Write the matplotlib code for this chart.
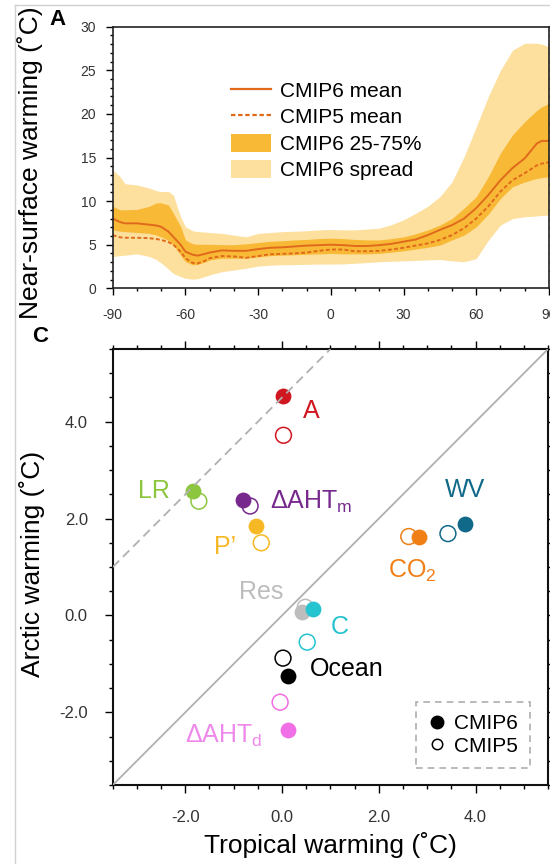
import matplotlib
matplotlib.use('Agg')
import matplotlib.pyplot as plt
from matplotlib.lines import Line2D
from matplotlib.patches import Patch
from matplotlib.ticker import MultipleLocator, FormatStrFormatter
import numpy as np

plt.rcParams['font.family'] = ['Liberation Sans', 'DejaVu Sans']
plt.rcParams['mathtext.fontset'] = 'custom'
plt.rcParams['mathtext.rm'] = 'Liberation Sans'
plt.rcParams['mathtext.it'] = 'Liberation Sans'
plt.rcParams['axes.unicode_minus'] = False

# panel A: zonal mean near-surface warming
lat = [-90, -87, -85, -80, -75, -72, -70, -67, -65, -62, -60, -57, -55, -52, -50, -45, -40, -35, -30, -25,
       -20, -15, -10, -5, 0, 5, 10, 15, 20, 25, 30, 35, 40, 45, 50, 55, 60, 65, 70, 75, 80, 85, 87, 90]
cmip6_mean = [8.0, 7.6, 7.45, 7.45, 7.3, 7.2, 7.05, 6.5, 5.9, 5.0, 4.2, 3.85, 3.75, 3.95, 4.1, 4.35, 4.3, 4.3, 4.5, 4.65,
              4.7, 4.8, 4.9, 4.95, 5.0, 4.95, 4.85, 4.85, 4.95, 5.1, 5.35, 5.6, 6.1, 6.7, 7.25, 8.0, 9.2, 10.7, 12.4, 13.8,
              14.9, 16.6, 16.9, 16.9]
cmip5_mean = [6.1, 5.85, 5.8, 5.8, 5.75, 5.65, 5.55, 5.3, 5.0, 4.2, 3.45, 2.9, 2.85, 3.15, 3.45, 3.7, 3.65, 3.5, 3.7, 3.9,
              3.95, 4.0, 4.1, 4.3, 4.45, 4.45, 4.25, 4.25, 4.3, 4.45, 4.65, 4.9, 5.15, 5.55, 6.1, 6.9, 8.0, 9.4, 11.1, 12.4,
              13.2, 14.1, 14.3, 14.45]
cmip6_q75 = [9.4, 9.0, 9.0, 9.05, 9.4, 9.8, 9.8, 9.55, 8.6, 7.1, 5.55, 5.1, 5.05, 5.05, 5.05, 5.0, 5.0, 5.1, 5.25, 5.4,
             5.45, 5.55, 5.6, 5.7, 5.75, 5.7, 5.6, 5.55, 5.55, 5.7, 5.9, 6.25, 6.7, 7.25, 8.0, 9.2, 10.5, 12.8, 15.5, 17.6,
             19.1, 20.4, 20.8, 21.2]
cmip6_q25 = [6.7, 6.55, 6.5, 6.4, 6.3, 6.1, 5.9, 5.5, 4.95, 3.8, 3.05, 2.7, 2.75, 3.0, 3.25, 3.45, 3.45, 3.45, 3.6, 3.75,
             3.8, 3.85, 3.9, 3.95, 4.0, 3.95, 3.95, 3.95, 4.0, 4.15, 4.3, 4.5, 4.7, 4.95, 5.55, 6.1, 7.05, 8.5, 10.3, 11.65,
             12.2, 12.6, 12.7, 12.8]
cmip6_max = [13.6, 12.8, 12.0, 11.85, 11.5, 11.2, 11.1, 11.1, 10.7, 8.2, 7.05, 6.6, 6.5, 6.45, 6.4, 6.3, 6.1, 5.9, 6.3, 6.4,
             6.5, 6.55, 6.6, 6.7, 6.75, 6.7, 6.7, 6.8, 6.9, 7.3, 7.85, 8.6, 9.4, 10.5, 12.2, 15.1, 18.5, 22.0, 25.0, 27.3,
             28.1, 28.1, 28.0, 27.7]
cmip6_min = [3.65, 3.75, 3.8, 3.95, 3.65, 3.3, 2.9, 2.2, 1.7, 1.35, 1.15, 1.05, 1.1, 1.35, 1.55, 1.9, 2.1, 2.3, 2.55, 2.65,
             2.7, 2.72, 2.75, 2.78, 2.78, 2.8, 2.87, 2.95, 3.05, 3.1, 3.15, 3.2, 3.25, 3.3, 3.15, 3.05, 3.4, 5.5, 7.25, 8.0,
             8.2, 8.3, 8.35, 8.4]

# panel C: arctic vs tropical warming contributions
terms = ['A', 'LR', 'dAHTm', 'P', 'CO2', 'WV', 'Res', 'C', 'Ocean', 'dAHTd']
term_labels = ['A', 'LR', 'ΔAHT$_{\\rm m}$', 'P’', 'CO$_{\\rm 2}$', 'WV', 'Res', 'C', 'Ocean', 'ΔAHT$_{\\rm d}$']
term_colors = ['#d0161f', '#8cc63f', '#76288c', '#f6b824', '#f07f16', '#11698a', '#bdbdbd', '#26c3d0', '#000000', '#f06ee6']
trop6 = [0.02, -1.85, -0.81, -0.54, 2.83, 3.79, 0.41, 0.65, 0.12, 0.12]
arct6 = [4.53, 2.57, 2.39, 1.85, 1.63, 1.88, 0.07, 0.14, -1.25, -2.36]
trop5 = [0.03, -1.72, -0.66, -0.43, 2.62, 3.43, 0.48, 0.52, 0.02, -0.04]
arct5 = [3.72, 2.36, 2.26, 1.50, 1.63, 1.69, 0.17, -0.55, -0.88, -1.79]
label_x = [0.6, -2.65, -0.24, -1.17, 2.2, 3.79, -0.43, 1.2, 0.58, -2.0]
label_y = [4.23, 2.57, 2.21, 1.41, 0.77, 2.6, 0.48, -0.24, -1.10, -2.62]
label_ha = ['center', 'center', 'left', 'center', 'left', 'center', 'center', 'center', 'left', 'left']
label_va = ['center', 'center', 'baseline', 'center', 'baseline', 'center', 'center', 'center', 'center', 'baseline']

fig = plt.figure(figsize=(5.5, 8.64), dpi=100)

# thin grey frame of the screenshot
fig.add_artist(Line2D([15 / 550, 15 / 550], [0, 1 - 5 / 864], transform=fig.transFigure, color='#d0d0d0', lw=1))
fig.add_artist(Line2D([15 / 550, 1], [1 - 5 / 864, 1 - 5 / 864], transform=fig.transFigure, color='#d0d0d0', lw=1))

ax1 = fig.add_axes([0.205, 0.6663, 0.793, 0.3028])
ax1.fill_between(lat, cmip6_min, cmip6_max, color='#fde09e', lw=0)
ax1.fill_between(lat, cmip6_q25, cmip6_q75, color='#f8b936', lw=0)
ax1.plot(lat, cmip6_mean, color='#e06a1c', lw=1.4)
ax1.plot(lat, cmip5_mean, color='#e06a1c', lw=1.4, ls=(0, (2, 1.2)))
ax1.set_xlim(-90, 90)
ax1.set_ylim(0, 30)
ax1.xaxis.set_major_locator(MultipleLocator(30))
ax1.xaxis.set_minor_locator(MultipleLocator(10))
ax1.yaxis.set_major_locator(MultipleLocator(5))
ax1.yaxis.set_minor_locator(MultipleLocator(1))
ax1.tick_params(which='both', direction='out', right=True, top=False, labelsize=10, labelcolor='#333333', width=1.0)
ax1.tick_params(which='major', length=5)
ax1.tick_params(which='minor', length=2.5)
ax1.tick_params(axis='x', which='major', pad=9)
ax1.tick_params(axis='y', which='major', pad=7)
for s in ax1.spines.values():
    s.set_color('#222222')
    s.set_linewidth(1.2)
ax1.set_ylabel('Near-surface warming (˚C)', fontsize=19)
ax1.yaxis.set_label_coords(-0.16, 0.48)

handles = [Line2D([], [], color='#e06a1c', lw=1.6),
           Line2D([], [], color='#e06a1c', lw=1.6, ls=(0, (2, 1.2))),
           Patch(color='#f8b936', lw=0),
           Patch(color='#fde09e', lw=0)]
ax1.legend(handles, ['CMIP6 mean', 'CMIP5 mean', 'CMIP6 25-75%', 'CMIP6 spread'],
           loc='upper left', bbox_to_anchor=(0.253, 0.825), frameon=False, fontsize=15,
           handlelength=1.9, handleheight=0.95, handletextpad=0.45, labelspacing=0.3, borderaxespad=0)

fig.text(0.105, 0.977, 'A', fontsize=16, fontweight='bold', ha='center', va='center')

ax2 = fig.add_axes([0.205, 0.0914, 0.7915, 0.5046])
ax2.set_xlim(-3.5, 5.5)
ax2.set_ylim(-3.5, 5.5)
ax2.plot([-3.5, 5.5], [-3.5, 5.5], color='#b0b0b0', lw=1.3, zorder=4)
ax2.plot([-3.5, 1.0], [1.0, 5.5], color='#b0b0b0', lw=1.3, ls=(0, (5, 3)), zorder=4)
for i in range(len(terms)):
    ax2.scatter(trop5[i], arct5[i], s=130, facecolors='none', edgecolors=term_colors[i], linewidths=1.1, zorder=2)
for i in range(len(terms)):
    ax2.scatter(trop6[i], arct6[i], s=130, color=term_colors[i], linewidths=0, zorder=3)
for i in range(len(terms)):
    c = term_colors[i]
    if terms[i] == 'dAHTd':
        c = '#ee88ea'
    ax2.text(label_x[i], label_y[i], term_labels[i], color=c, fontsize=18,
             ha=label_ha[i], va=label_va[i], zorder=5)

ax2.xaxis.set_major_locator(MultipleLocator(2))
ax2.xaxis.set_minor_locator(MultipleLocator(0.5))
ax2.yaxis.set_major_locator(MultipleLocator(2))
ax2.yaxis.set_minor_locator(MultipleLocator(0.5))
ax2.xaxis.set_major_formatter(FormatStrFormatter('%.1f'))
ax2.yaxis.set_major_formatter(FormatStrFormatter('%.1f'))
ax2.tick_params(which='both', direction='out', top=True, right=True, labelsize=12, labelcolor='#333333', width=1.0)
ax2.tick_params(which='major', length=6, pad=12)
ax2.tick_params(which='minor', length=3)
for s in ax2.spines.values():
    s.set_color('#111111')
    s.set_linewidth(1.5)
ax2.set_xlabel('Tropical warming (˚C)', fontsize=19, labelpad=5)
ax2.set_ylabel('Arctic warming (˚C)', fontsize=19)
ax2.yaxis.set_label_coords(-0.155, 0.507)

leg_handles = [Line2D([], [], ls='none', marker='o', markersize=9, color='black'),
               Line2D([], [], ls='none', marker='o', markersize=7.5, markerfacecolor='white',
                      markeredgecolor='black', markeredgewidth=1.1)]
leg = ax2.legend(leg_handles, ['CMIP6', 'CMIP5'], loc='lower right', bbox_to_anchor=(0.959, 0.039),
                 fontsize=15, handlelength=0.8, handletextpad=0.4, labelspacing=0.15,
                 borderaxespad=0, fancybox=False, borderpad=0.6)
leg.get_frame().set_linestyle((0, (4, 3)))
leg.get_frame().set_edgecolor('#999999')
leg.get_frame().set_linewidth(1.2)

fig.text(0.073, 0.61, 'C', fontsize=16, fontweight='bold', ha='center', va='center')

fig.savefig('out.png', dpi=100)
